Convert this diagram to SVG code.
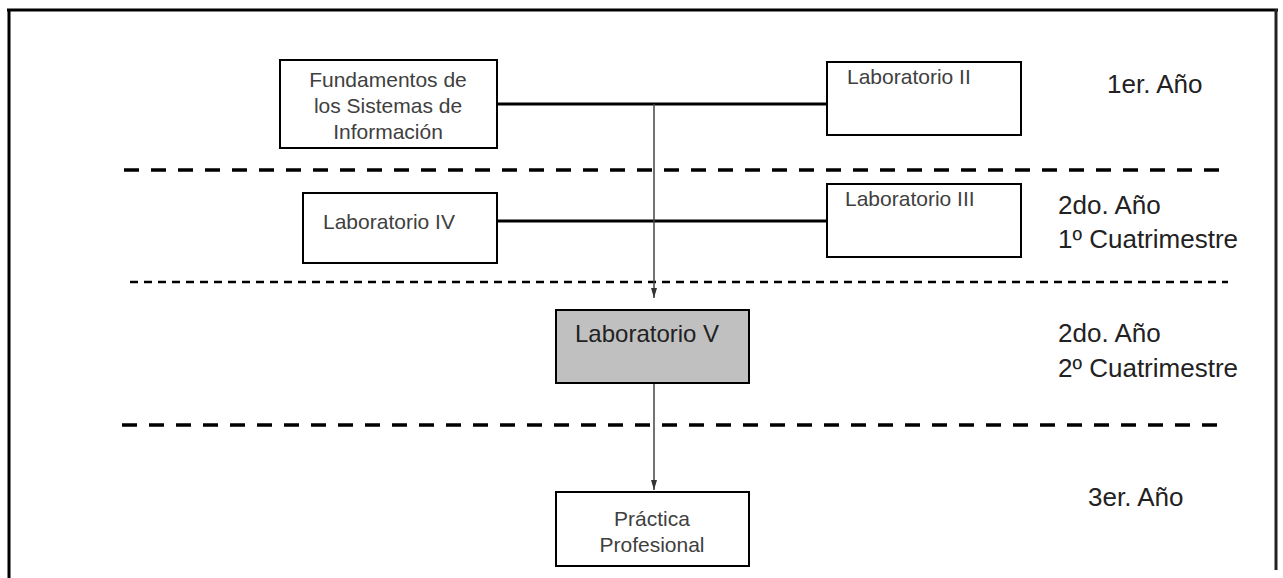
<svg xmlns="http://www.w3.org/2000/svg" width="1283" height="578" viewBox="0 0 1283 578">
<style>
.box{fill:#fff;stroke:#000;stroke-width:2}
.boxg{fill:#c0c0c0;stroke:#000;stroke-width:2}
.t{font-family:"Liberation Sans",Arial,sans-serif;font-size:21px;fill:#404040}
.tv{font-family:"Liberation Sans",Arial,sans-serif;font-size:24px;fill:#222}
.side{font-family:"Liberation Sans",Arial,sans-serif;font-size:26px;fill:#222}
.thick{stroke:#000;stroke-width:3;fill:none}
.dash1{stroke:#000;stroke-width:3.5;stroke-dasharray:15 12;fill:none}
.dash2{stroke:#000;stroke-width:2.5;stroke-dasharray:8 6;fill:none}
.arr{stroke:#444;stroke-width:1.5;fill:none;marker-end:url(#ah)}
</style>
<defs>
<marker id="ah" markerWidth="10" markerHeight="6" refX="10" refY="3" orient="auto" markerUnits="userSpaceOnUse" viewBox="0 0 10 6">
<path d="M0,0 L10,3 L0,6 Z" fill="#333"/>
</marker>
</defs>
<rect width="1283" height="578" fill="#fff"/>
<g id="frame">
<line x1="7" y1="10" x2="1278" y2="10" class="thick"/>
<line x1="9" y1="9" x2="9" y2="578" class="thick"/>
<line x1="1276" y1="9" x2="1276" y2="570" stroke="#222" stroke-width="3"/>
</g>
<g id="separators">
<line x1="124" y1="170" x2="1228" y2="170" class="dash1"/>
<line x1="130" y1="282" x2="1228" y2="282" class="dash2"/>
<line x1="122" y1="425" x2="1228" y2="425" class="dash1"/>
</g>
<g id="connectors">
<line x1="497" y1="104" x2="827" y2="104" class="thick"/>
<line x1="497" y1="221" x2="827" y2="221" class="thick"/>
<line x1="654" y1="104" x2="654" y2="298" class="arr"/>
<line x1="654" y1="383" x2="654" y2="490" class="arr"/>
</g>
<g id="fundamentos">
<rect x="280" y="60" width="217" height="88" class="box"/>
<text class="t" text-anchor="middle"><tspan x="388" y="87">Fundamentos de</tspan><tspan x="388" y="113">los Sistemas de</tspan><tspan x="388" y="139">Información</tspan></text>
</g>
<g id="lab2">
<rect x="827" y="62" width="194" height="73" class="box"/>
<text class="t" x="847" y="84">Laboratorio II</text>
</g>
<g id="lab4">
<rect x="303" y="193" width="194" height="70" class="box"/>
<text class="t" x="323" y="229">Laboratorio IV</text>
</g>
<g id="lab3">
<rect x="827" y="184" width="194" height="73" class="box"/>
<text class="t" x="845" y="206">Laboratorio III</text>
</g>
<g id="lab5">
<rect x="556" y="310" width="193" height="73" class="boxg"/>
<text class="tv" x="575" y="342">Laboratorio V</text>
</g>
<g id="practica">
<rect x="556" y="492" width="193" height="74" class="box"/>
<text class="t" text-anchor="middle"><tspan x="652" y="526">Práctica</tspan><tspan x="652" y="552">Profesional</tspan></text>
</g>
<g id="labels">
<text class="side" x="1107" y="93">1er. Año</text>
<text class="side"><tspan x="1058" y="214">2do. Año</tspan><tspan x="1058" y="248">1º Cuatrimestre</tspan></text>
<text class="side"><tspan x="1058" y="342">2do. Año</tspan><tspan x="1058" y="377">2º Cuatrimestre</tspan></text>
<text class="side" x="1088" y="506">3er. Año</text>
</g>
</svg>
